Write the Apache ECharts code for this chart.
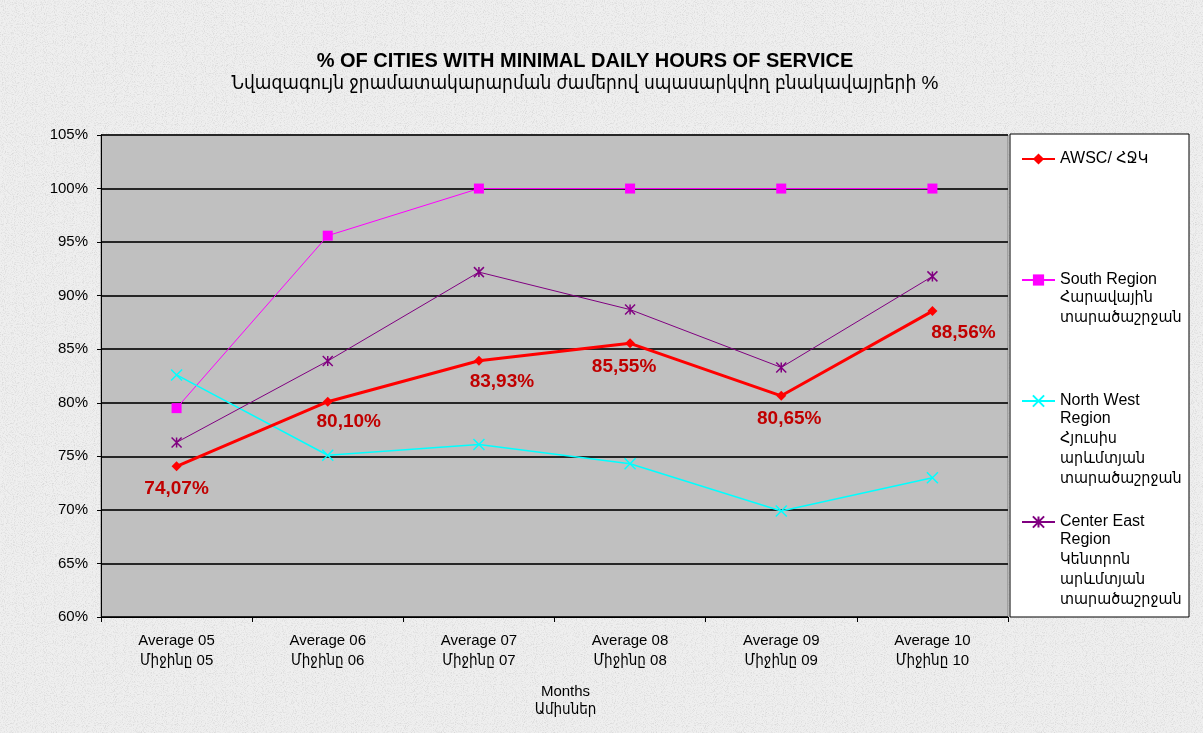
<!DOCTYPE html>
<html>
<head>
<meta charset="utf-8">
<script src="https://cdn.jsdelivr.net/npm/echarts@6/dist/echarts.min.js"></script>
<style>
html, body { margin: 0; padding: 0; }
body {
  width: 1203px;
  height: 733px;
  background-color: #efefef;
  background-image: url("data:image/svg+xml;utf8,<svg xmlns='http://www.w3.org/2000/svg' width='300' height='300'><filter id='n'><feTurbulence type='fractalNoise' baseFrequency='0.9' numOctaves='2' stitchTiles='stitch'/><feColorMatrix values='0 0 0 0 0.55 0 0 0 0 0.55 0 0 0 0 0.55 0 0 0 -1.4 0.75'/></filter><rect width='300' height='300' filter='url(%23n)'/></svg>");
}
#chart { width: 1203px; height: 733px; }
</style>
</head>
<body>
<div id="chart"></div>
<script>
// categories and values (percent)
const months = ['Average 05\nՄիջինը 05', 'Average 06\nՄիջինը 06', 'Average 07\nՄիջինը 07',
  'Average 08\nՄիջինը 08', 'Average 09\nՄիջինը 09', 'Average 10\nՄիջինը 10']
const awsc = [74.07, 80.10, 83.93, 85.55, 80.65, 88.56]
const south = [79.5, 95.6, 100, 100, 100, 100]
const northWest = [82.6, 75.1, 76.1, 74.3, 69.9, 73.0]
const centerEast = [76.3, 83.9, 92.2, 88.7, 83.3, 91.8]

const seriesNames = ['AWSC/ ՀՋԿ', 'South Region\nՀարավային\nտարածաշրջան',
  'North West\nRegion\nՀյուսիս\nարևմտյան\nտարածաշրջան',
  'Center East\nRegion\nԿենտրոն\nարևմտյան\nտարածաշրջան']

// label nudges for the AWSC values, like the original
const labelNudge = [[0, 0], [21, -2], [23, -1], [-6, 1], [8, 0], [31, -1]]

const arial = "'Liberation Sans', 'DejaVu Sans Condensed', Arial, sans-serif"
const starPath = 'path://M0,0L10,10M10,0L0,10M5,0L5,10'
const crossPath = 'path://M0,0L10,10M10,0L0,10'

// legend entries sit at fixed heights, icon next to the first line of text
const legendTops = [158, 279, 400, 521]
const lineH = 20
const legends = seriesNames.map((name, i) => ({
  data: [name],
  left: 1021,
  top: legendTops[i] - 7,
  padding: 0,
  itemWidth: 33,
  itemHeight: 14,
  selectedMode: false,
  formatter: n => n.split('\n')[0],
  textStyle: { fontFamily: arial, fontSize: 16, color: '#000' }
}))
// the other lines of each legend name
let legendRest = []
seriesNames.forEach((name, i) => {
  name.split('\n').slice(1).forEach((line, j) => {
    legendRest.push({
      type: 'text',
      left: 1060,
      top: legendTops[i] + (j + 1) * lineH - 9,
      style: { text: line, font: '16px ' + arial, fill: '#000' }
    })
  })
})

let myChart = echarts.init(document.getElementById('chart'))
myChart.setOption({
  backgroundColor: 'transparent',
  animation: false,
  title: {
    text: '% OF CITIES WITH MINIMAL DAILY HOURS OF SERVICE',
    subtext: 'Նվազագույն ջրամատակարարման ժամերով սպասարկվող բնակավայրերի %',
    left: 580,
    textAlign: 'center',
    top: 46,
    itemGap: 3,
    textStyle: { fontFamily: arial, fontSize: 20, fontWeight: 'bold', color: '#000' },
    subtextStyle: { fontFamily: arial, fontSize: 19, color: '#000' }
  },
  graphic: [{
    type: 'rect',
    shape: { x: 1010, y: 134, width: 179, height: 483 },
    style: { fill: '#fff', stroke: '#000', lineWidth: 1 },
    z: -1
  }].concat(legendRest),
  legend: legends,
  grid: {
    left: 101,
    right: 195,
    top: 135,
    bottom: 116,
    show: true,
    backgroundColor: '#C0C0C0',
    borderColor: '#808080',
    borderWidth: 1
  },
  xAxis: {
    type: 'category',
    data: months,
    boundaryGap: true,
    axisLine: { lineStyle: { color: '#000', width: 1 } },
    axisTick: { show: true, interval: 0, length: 5, lineStyle: { color: '#000' } },
    axisLabel: { fontFamily: arial, fontSize: 15, color: '#000', lineHeight: 20, margin: 14, interval: 0 },
    name: 'Months\nԱմիսներ',
    nameLocation: 'middle',
    nameGap: 66,
    nameTextStyle: { fontFamily: arial, fontSize: 15, color: '#000', lineHeight: 18, padding: [0, 0, 0, 22] }
  },
  yAxis: {
    type: 'value',
    min: 60,
    max: 105,
    interval: 5,
    axisLine: { show: true, lineStyle: { color: '#000', width: 1 } },
    axisTick: { show: true, length: 4, lineStyle: { color: '#000' } },
    axisLabel: { formatter: '{value}%', fontFamily: arial, fontSize: 15, color: '#000', margin: 13 },
    splitLine: { lineStyle: { color: '#262626', width: 2 } }
  },
  series: [
    {
      name: seriesNames[0],
      type: 'line',
      data: awsc.map((v, i) => ({
        value: v,
        label: { offset: labelNudge[i] }
      })),
      symbol: 'diamond',
      symbolSize: 10,
      z: 5,
      itemStyle: { color: '#FF0000' },
      lineStyle: { color: '#FF0000', width: 3 },
      label: {
        show: true,
        position: 'bottom',
        distance: 8,
        formatter: p => p.value.toFixed(2).replace('.', ',') + '%',
        fontFamily: arial,
        fontSize: 19,
        fontWeight: 'bold',
        color: '#C00000'
      }
    },
    {
      name: seriesNames[1],
      type: 'line',
      data: south,
      symbol: 'rect',
      symbolSize: 10,
      itemStyle: { color: '#FF00FF' },
      lineStyle: { color: '#FF00FF', width: 1 }
    },
    {
      name: seriesNames[2],
      type: 'line',
      data: northWest,
      symbol: crossPath,
      symbolSize: 11,
      itemStyle: { color: '#00FFFF', borderColor: '#00FFFF', borderWidth: 1.5 },
      lineStyle: { color: '#00FFFF', width: 1.5 }
    },
    {
      name: seriesNames[3],
      type: 'line',
      data: centerEast,
      symbol: starPath,
      symbolSize: 10,
      itemStyle: { color: '#800080', borderColor: '#800080', borderWidth: 1.5 },
      lineStyle: { color: '#800080', width: 1 }
    }
  ]
})
</script>
</body>
</html>
